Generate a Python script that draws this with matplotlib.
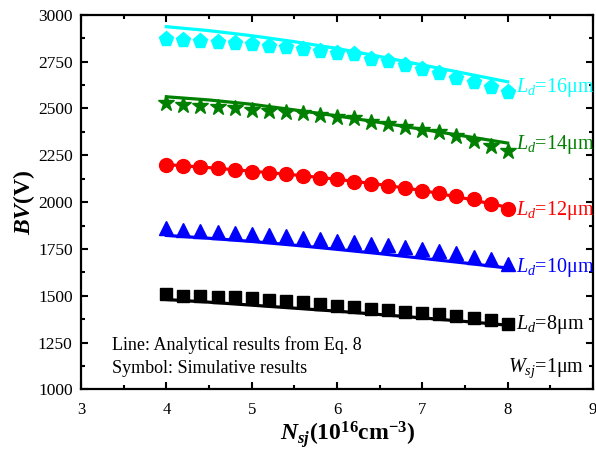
import numpy as np
import matplotlib
matplotlib.use('Agg')
import matplotlib.pyplot as plt
from matplotlib.ticker import MultipleLocator

plt.rcParams['font.family'] = ['Liberation Serif', 'DejaVu Serif']
plt.rcParams['mathtext.fontset'] = 'custom'
plt.rcParams['mathtext.rm'] = 'Liberation Serif'
plt.rcParams['mathtext.it'] = 'Liberation Serif:italic'
plt.rcParams['mathtext.bf'] = 'Liberation Serif:bold'
plt.rcParams['mathtext.bfit'] = 'Liberation Serif:italic:bold'

# Simulation points (symbols)
n_sim = [4.0, 4.2, 4.4, 4.6, 4.8, 5.0, 5.2, 5.4, 5.6, 5.8, 6.0,
         6.2, 6.4, 6.6, 6.8, 7.0, 7.2, 7.4, 7.6, 7.8, 8.0]
bv_sim_16 = [2872, 2866, 2861, 2855, 2850, 2844, 2835, 2826, 2816, 2806, 2797,
             2792, 2765, 2754, 2732, 2710, 2691, 2664, 2642, 2614, 2586]
bv_sim_14 = [2527, 2519, 2514, 2508, 2500, 2492, 2487, 2481, 2474, 2465, 2456,
             2447, 2430, 2416, 2402, 2386, 2372, 2352, 2327, 2300, 2272]
bv_sim_12 = [2198, 2192, 2186, 2180, 2171, 2163, 2154, 2148, 2139, 2130, 2121,
             2108, 2097, 2087, 2075, 2060, 2046, 2032, 2014, 1990, 1962]
bv_sim_10 = [1860, 1851, 1847, 1841, 1836, 1829, 1824, 1818, 1811, 1802, 1793,
             1788, 1779, 1772, 1761, 1752, 1740, 1726, 1709, 1694, 1670]
bv_sim_8 = [1510, 1501, 1498, 1494, 1491, 1486, 1480, 1473, 1465, 1456, 1447,
            1441, 1432, 1424, 1416, 1409, 1403, 1391, 1382, 1370, 1352]

# Analytical results (lines)
n_ana = [4.0, 4.5, 5.0, 5.5, 6.0, 6.5, 7.0, 7.5, 8.0]
bv_ana_16 = [2936, 2915, 2888, 2856, 2820, 2777, 2732, 2687, 2642]
bv_ana_14 = [2562, 2545, 2522, 2492, 2460, 2425, 2388, 2352, 2315]
bv_ana_12 = [2200, 2184, 2165, 2145, 2122, 2094, 2062, 2020, 1972]
bv_ana_10 = [1822, 1807, 1790, 1770, 1748, 1725, 1700, 1675, 1648]
bv_ana_8 = [1480, 1466, 1450, 1434, 1418, 1400, 1382, 1363, 1343]

labels = ['16', '14', '12', '10', '8']
label_y = [2588, 2282, 1930, 1628, 1322]
colors = ['#00FFFF', '#008000', '#FF0000', '#0000FF', '#000000']
markers = ['p', '*', 'o', '^', 's']
msizes = [11, 12, 10, 10, 8]

sims = [bv_sim_16, bv_sim_14, bv_sim_12, bv_sim_10, bv_sim_8]
anas = [bv_ana_16, bv_ana_14, bv_ana_12, bv_ana_10, bv_ana_8]

fig = plt.figure(figsize=(5.96, 4.51), dpi=100)
ax = fig.add_axes([0.1359, 0.1364, 0.859, 0.831])

for sim, ana, c, m, ms, lab, ly in zip(sims, anas, colors, markers, msizes, labels, label_y):
    ax.plot(n_ana, ana, color=c, lw=2.3, zorder=2)
    ax.plot(n_sim, sim, ls='none', marker=m, color=c, ms=ms, mec=c, zorder=3)
    ax.text(8.1, ly, r'$L_d$=' + lab + 'μm', color=c, fontsize=14.5, va='baseline', ha='left')

ax.text(3.36, 1237, 'Line: Analytical results from Eq. 8', fontsize=13, va='center')
ax.text(3.36, 1113, 'Symbol: Simulative results', fontsize=13, va='center')
ax.text(8.9, 1113, r'$W_{sj}$=1μm', fontsize=14.5, va='center', ha='right')

ax.set_xlim(3, 9)
ax.set_ylim(1000, 3000)
ax.xaxis.set_major_locator(MultipleLocator(1))
ax.xaxis.set_minor_locator(MultipleLocator(0.5))
ax.yaxis.set_major_locator(MultipleLocator(250))
ax.yaxis.set_minor_locator(MultipleLocator(125))
ax.tick_params(which='both', direction='in', top=True, right=True, width=1.5)
ax.tick_params(which='major', length=5)
ax.tick_params(which='minor', length=3)
ax.tick_params(axis='y', labelsize=12.5, pad=6)
ax.tick_params(axis='x', labelsize=12, pad=9)
for sp in ax.spines.values():
    sp.set_linewidth(1.6)

ax.set_ylabel(r'$\mathbfit{BV}$(V)', fontsize=17, fontweight='bold')
ax.set_xlabel(r'$\mathbfit{N}_{\mathbfit{sj}}$(10$^{\mathbf{16}}$cm$^{\mathbf{-3}}$)',
              fontsize=17, fontweight='bold')
ax.yaxis.set_label_coords(-0.085, 0.5)
ax.xaxis.set_label_coords(0.52, -0.078)

fig.savefig('out.png', dpi=100)
